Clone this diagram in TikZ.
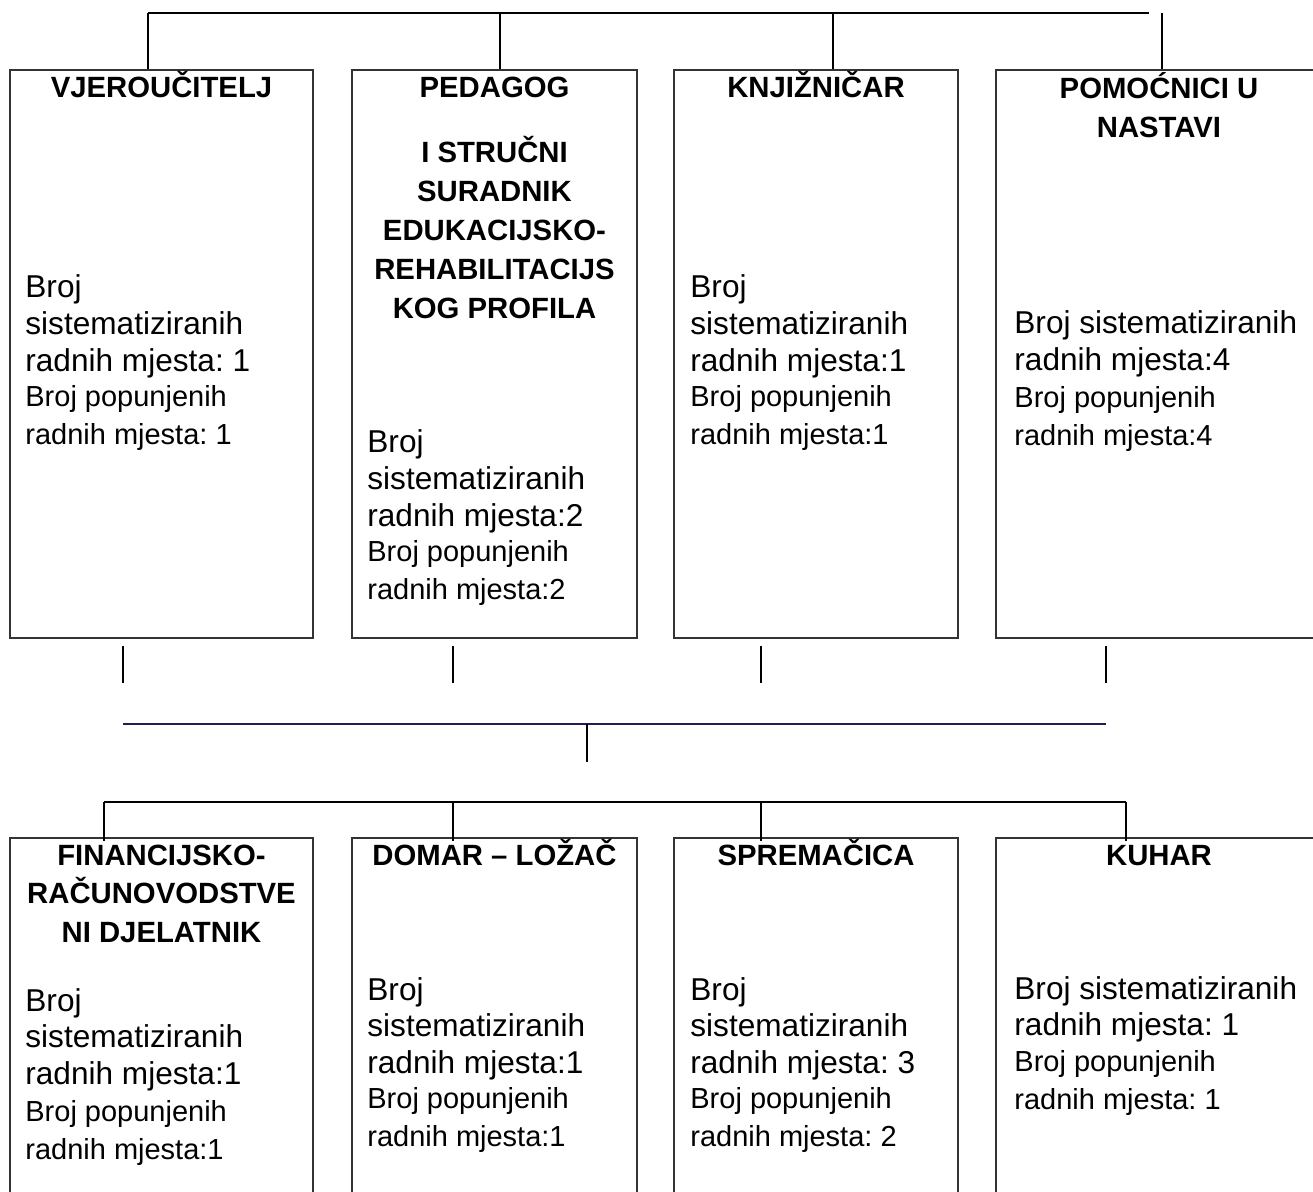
\documentclass[tikz,border=0pt]{standalone}
\usepackage{fontspec}
\setmainfont{Liberation Sans}
\usepackage{tikz}
\frenchspacing
\definecolor{midblue}{RGB}{30,30,85}
\newcommand\rows[1]{\begin{tabular}[t]{@{}l@{}}#1\end{tabular}}
\newcommand\crows[1]{\begin{tabular}[t]{@{}c@{}}#1\end{tabular}}
\newcommand\numtxt{\fontsize{15.8}{18.3}\selectfont}
\newcommand\occtxt{\fontsize{14.5}{19}\selectfont}
\newcommand\headtxt{\fontsize{14.65}{19.4}\selectfont\bfseries}
\tikzset{
  box/.style={draw=black!80, line width=0.7pt, inner sep=0pt},
  topbox/.style={box, minimum height=284pt},
  lowbox/.style={box, minimum height=191pt},
  link/.style={line width=1pt},
  head/.style={anchor=base, inner sep=0pt, font=\headtxt},
  num/.style={anchor=base west, inner sep=0pt, font=\numtxt},
  occ/.style={anchor=base west, inner sep=0pt, font=\occtxt},
}

\begin{document}
\begin{tikzpicture}[x=0.5pt,y=-0.5pt]

\useasboundingbox (0,0) rectangle (1313,1192);
\clip (0,0) rectangle (1313,1192);

% upper row
\node[topbox, minimum width=151.5pt] (vjer) at (161.5,354) {};
\node[topbox, minimum width=142.5pt] (ped) at (494.5,354) {};
\node[topbox, minimum width=142pt] (knj) at (816,354) {};
\node[topbox, minimum width=163pt] (pom) at (1159,354) {};

% lower row
\node[lowbox, minimum width=151.5pt] (fin) at (161.5,1029) {};
\node[lowbox, minimum width=142.5pt] (dom) at (494.5,1029) {};
\node[lowbox, minimum width=142pt] (spr) at (816,1029) {};
\node[lowbox, minimum width=163pt] (kuh) at (1159,1029) {};

% headings
\node[head] (vjer-h) at (161.5,98) {VJEROUČITELJ};
\node[head] (ped-h) at (494.5,98) {PEDAGOG};
\node[head] (ped-h2) at (494.5,163) {\crows{I STRUČNI\\SURADNIK\\EDUKACIJSKO-\\REHABILITACIJS\\KOG PROFILA}};
\node[head] (knj-h) at (816,98) {KNJIŽNIČAR};
\node[head] (pom-h) at (1159,99) {\crows{POMOĆNICI U\\NASTAVI}};
\node[head] (fin-h) at (161.5,865) {\crows{FINANCIJSKO-\\RAČUNOVODSTVE\\NI DJELATNIK}};
\node[head] (dom-h) at (494.5,865) {DOMAR – LOŽAČ};
\node[head] (spr-h) at (816,865) {SPREMAČICA};
\node[head] (kuh-h) at (1159,865) {KUHAR};

% numbers
\node[num] (vjer-a) at (25,298) {\rows{Broj\\sistematiziranih\\radnih mjesta: 1}};
\node[occ] (vjer-b) at (25,407) {\rows{Broj popunjenih\\radnih mjesta: 1}};
\node[num] (ped-a) at (367,453) {\rows{Broj\\sistematiziranih\\radnih mjesta:2}};
\node[occ] (ped-b) at (367,562) {\rows{Broj popunjenih\\radnih mjesta:2}};
\node[num] (knj-a) at (690,298) {\rows{Broj\\sistematiziranih\\radnih mjesta:1}};
\node[occ] (knj-b) at (690,407) {\rows{Broj popunjenih\\radnih mjesta:1}};
\node[num] (pom-a) at (1014,334) {\rows{Broj sistematiziranih\\radnih mjesta:4}};
\node[occ] (pom-b) at (1014,408) {\rows{Broj popunjenih\\radnih mjesta:4}};
\node[num] (fin-a) at (25,1011) {\rows{Broj\\sistematiziranih\\radnih mjesta:1}};
\node[occ] (fin-b) at (25,1121) {\rows{Broj popunjenih\\radnih mjesta:1}};
\node[num] (dom-a) at (367,1000) {\rows{Broj\\sistematiziranih\\radnih mjesta:1}};
\node[occ] (dom-b) at (367,1108) {\rows{Broj popunjenih\\radnih mjesta:1}};
\node[num] (spr-a) at (690,1000) {\rows{Broj\\sistematiziranih\\radnih mjesta: 3}};
\node[occ] (spr-b) at (690,1108) {\rows{Broj popunjenih\\radnih mjesta: 2}};
\node[num] (kuh-a) at (1014,999) {\rows{Broj sistematiziranih\\radnih mjesta: 1}};
\node[occ] (kuh-b) at (1014,1071) {\rows{Broj popunjenih\\radnih mjesta: 1}};

% top bus
\coordinate (t1) at (148,13);
\coordinate (t2) at (500,13);
\coordinate (t3) at (833,13);
\coordinate (tR) at (1149,13);
\coordinate (t4) at (1162,13);
\draw[link] (t1) -- (tR);
\draw[link] (t1) -- (t1 |- vjer.north);
\draw[link] (t2) -- (t2 |- ped.north);
\draw[link] (t3) -- (t3 |- knj.north);
\draw[link] (t4) -- (t4 |- pom.north);

% short ticks under the boxes
\coordinate (d1) at (123,646);
\coordinate (d2) at (453,646);
\coordinate (d3) at (761,646);
\coordinate (d4) at (1106,646);
\draw[link] (d1) -- ++(0,37);
\draw[link] (d2) -- ++(0,37);
\draw[link] (d3) -- ++(0,37);
\draw[link] (d4) -- ++(0,37);

% middle line
\coordinate (mL) at (123,724);
\coordinate (mR) at (1106,724);
\coordinate (mC) at (587,724);
\coordinate (mD) at (587,762);
\draw[link, midblue, line width=1.2pt] (mL) -- (mR);
\draw[link] (mC) -- (mD);

% lower bus
\coordinate (b1) at (104,802);
\coordinate (b2) at (453,802);
\coordinate (b3) at (761,802);
\coordinate (b4) at (1126,802);
\draw[link] (b1) -- (b4);
\draw[link] (b1) -- ([yshift=-2pt]b1 |- fin.north);
\draw[link] (b2) -- ([yshift=-2pt]b2 |- dom.north);
\draw[link] (b3) -- ([yshift=-2pt]b3 |- spr.north);
\draw[link] (b4) -- ([yshift=-2pt]b4 |- kuh.north);

\end{tikzpicture}
\end{document}
